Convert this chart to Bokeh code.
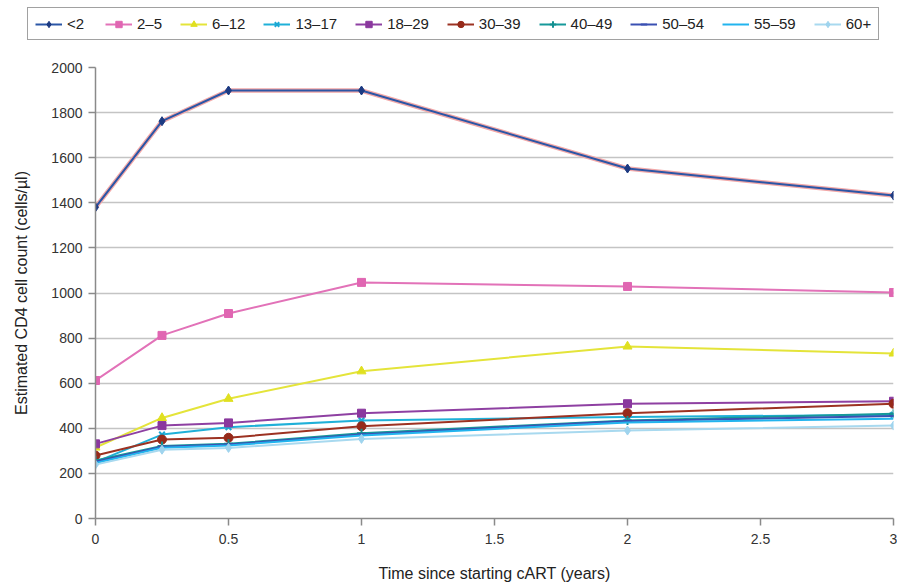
from bokeh.plotting import figure
from bokeh.models import Range1d, FixedTicker, Legend, LegendItem
from bokeh.embed import file_html
from bokeh.resources import INLINE

# ---- data ----
x_years = [0, 0.25, 0.5, 1, 2, 3]
age_groups = ["<2", "2–5", "6–12", "13–17", "18–29", "30–39", "40–49", "50–54", "55–59", "60+"]
cd4_lt2 = [1380, 1762, 1898, 1898, 1552, 1432]
cd4_2_5 = [612, 812, 909, 1047, 1029, 1002]
cd4_6_12 = [315, 446, 531, 653, 763, 732]
cd4_13_17 = [250, 372, 405, 435, 450, 460]
cd4_18_29 = [331, 412, 424, 467, 509, 520]
cd4_30_39 = [279, 350, 358, 409, 467, 509]
cd4_40_49 = [257, 322, 331, 378, 435, 464]
cd4_50_54 = [252, 318, 328, 373, 432, 455]
cd4_55_59 = [246, 314, 324, 368, 426, 442]
cd4_60p = [239, 305, 313, 353, 390, 412]
y_ticks = [0, 200, 400, 600, 800, 1000, 1200, 1400, 1600, 1800, 2000]
x_ticks = [0, 0.5, 1, 1.5, 2, 2.5, 3]
x_tick_labels = ["0", "0.5", "1", "1.5", "2", "2.5", "3"]

series = [cd4_lt2, cd4_2_5, cd4_6_12, cd4_13_17, cd4_18_29, cd4_30_39,
          cd4_40_49, cd4_50_54, cd4_55_59, cd4_60p]
line_colors = ["#2b56a6", "#e272b8", "#e4e43a", "#1fb0d8", "#8e40a2", "#9c3222",
               "#16999a", "#3a50b2", "#22b4ee", "#a8d9ef"]
marker_colors = ["#1c3a82", "#e066b2", "#e0e020", "#1aa8d4", "#8a389e", "#962a1a",
                 "#128f90", "#3a50b2", "#22b4ee", "#9fd4ee"]
markers = ["diamond", "square", "triangle", "x", "square", "circle", "cross", "dash", None, "diamond"]
msizes = [9, 8, 9, 8, 8, 9, 9, 8, 0, 9]

FONT = "Liberation Sans"
LEG_H = 45


def draw_series(fig):
    out = []
    for name, vals, lc, mc, mk, ms in zip(age_groups, series, line_colors, marker_colors, markers, msizes):
        rs = [fig.line(x_years, vals, line_color=lc, line_width=2)]
        if mk is not None:
            rs.append(fig.scatter(x_years, vals, marker=mk, size=ms, fill_color=mc, line_color=mc,
                                  line_width=2 if mk in ("x", "cross", "dash") else 1))
        out.append(LegendItem(label=name, renderers=rs))
    return out


# ---- main chart ----
p = figure(frame_width=798, frame_height=451,
           min_border_left=95, min_border_right=4, min_border_top=67 - LEG_H, min_border_bottom=65,
           x_range=Range1d(0, 3), y_range=Range1d(0, 2000),
           output_backend="svg", toolbar_location=None)
p.outline_line_color = None
p.background_fill_color = "white"
p.border_fill_color = "white"

# halo under the <2 line
p.line(x_years, cd4_lt2, line_color="#f2a8a8", line_width=4.5)
draw_series(p)

p.xaxis.ticker = FixedTicker(ticks=x_ticks)
p.xaxis.major_label_overrides = {t: l for t, l in zip(x_ticks, x_tick_labels)}
p.yaxis.ticker = FixedTicker(ticks=y_ticks)
for ax in (p.xaxis, p.yaxis):
    ax.axis_line_color = "#8a8a8a"
    ax.axis_line_width = 1.5
    ax.major_tick_line_color = "#8a8a8a"
    ax.major_tick_line_width = 1.5
    ax.major_tick_out = 7
    ax.major_tick_in = 0
    ax.minor_tick_line_color = None
    ax.major_label_text_font = FONT
    ax.major_label_text_font_size = "14px"
    ax.major_label_text_color = "#333"
    ax.axis_label_text_font = FONT
    ax.axis_label_text_font_size = "16px"
    ax.axis_label_text_font_style = "normal"
    ax.axis_label_text_color = "#222"
p.xaxis.axis_label = "Time since starting cART (years)"
p.yaxis.axis_label = "Estimated CD4 cell count (cells/µl)"
p.xaxis.major_label_standoff = 8
p.yaxis.major_label_standoff = 6
p.xaxis.axis_label_standoff = 18
p.yaxis.axis_label_standoff = 18
p.xgrid.grid_line_color = None
p.ygrid.grid_line_color = "#c4c4c4"
p.ygrid.grid_line_width = 1.5

# ---- legend strip (series drawn out of view; only the legend shows) ----
lf = figure(width=897, height=LEG_H, min_border=0, x_axis_location=None, y_axis_location=None,
            x_range=Range1d(10, 11), y_range=Range1d(5000, 6000),
            output_backend="svg", toolbar_location=None)
lf.outline_line_color = None
lf.grid.grid_line_color = None
lf.background_fill_color = "white"
lf.border_fill_color = "white"
items = draw_series(lf)
legend = Legend(items=items, orientation="horizontal", location=(27, LEG_H - 40),
                label_text_font=FONT, label_text_font_size="15px", label_text_color="#222",
                glyph_width=27, glyph_height=16, label_standoff=5, spacing=18,
                padding=7, margin=0, border_line_color="#444", border_line_width=1,
                background_fill_color="white", background_fill_alpha=1,
                label_height=16)
lf.add_layout(legend)

open("out.html", "w").write(file_html([lf, p], INLINE))
